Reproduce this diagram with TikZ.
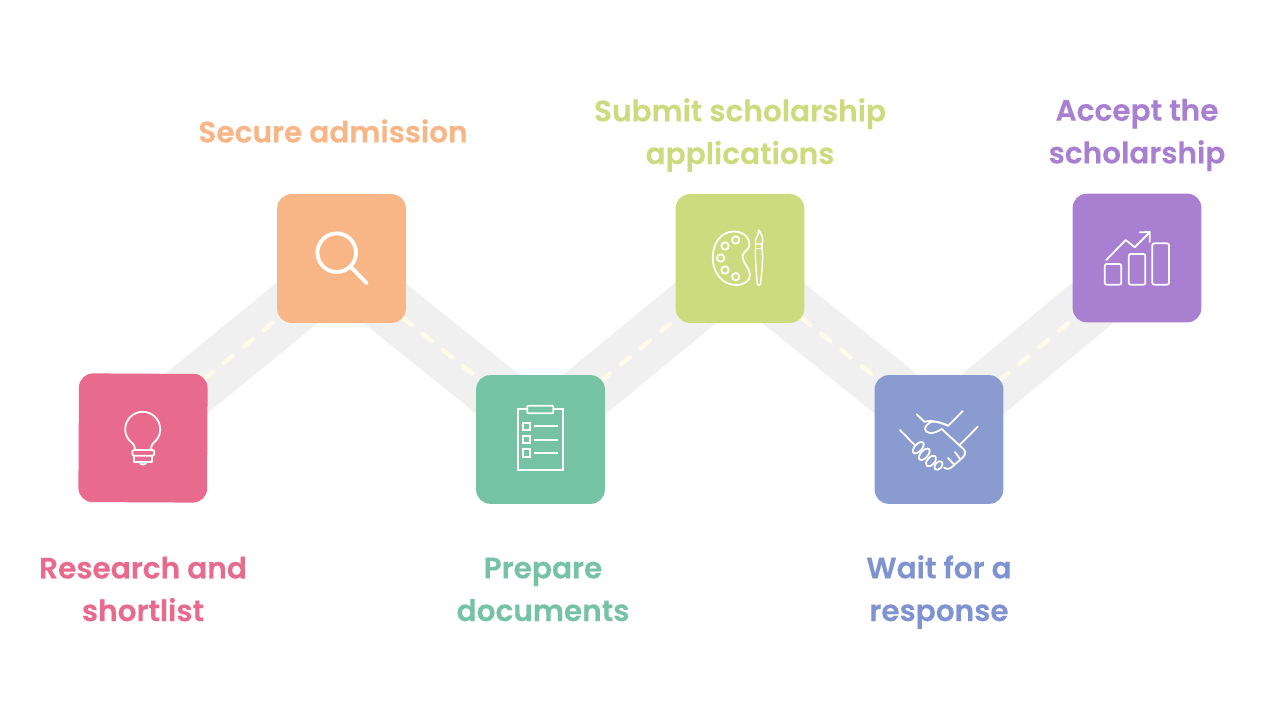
\documentclass[tikz,border=0pt]{standalone}
\usepackage{fontspec}
\usetikzlibrary{calc}
\newfontfamily\lblfont[FakeBold=0.2]{Poppins SemiBold}
\definecolor{cpink}{HTML}{E86A8C}
\definecolor{corange}{HTML}{F8B586}
\definecolor{cgreen}{HTML}{75C2A4}
\definecolor{clime}{HTML}{CBDB7D}
\definecolor{cblue}{HTML}{8A9CCF}
\definecolor{cbluet}{HTML}{7E93CF}
\definecolor{cpurple}{HTML}{A97FD1}
\definecolor{cband}{HTML}{F0F0F0}
\definecolor{cdash}{HTML}{FFFBEA}
\tikzset{
  square/.style={rectangle,rounded corners=10.5pt,minimum size=96.5pt,inner sep=0pt,fill=#1},
  lbl/.style={font=\lblfont\fontsize{22.2}{32}\selectfont,align=center,text=#1,inner sep=0pt},
  band/.style={draw=cband,line width=43pt},
  road/.style={draw=cdash,line width=3.3pt,dash pattern=on 9pt off 10.5pt,line cap=round},
  ico/.style={draw=white,line width=1.35pt,line join=round,line cap=round},
}
\begin{document}
\begin{tikzpicture}[x=0.75pt,y=-0.75pt]
\useasboundingbox (0,0) rectangle (1280,720);
\coordinate (c1) at (143,438);
\coordinate (c2) at (341.5,258.5);
\coordinate (c3) at (540.5,439.5);
\coordinate (c4) at (740,258.5);
\coordinate (c5) at (939,439.5);
\coordinate (c6) at (1137,258);
\foreach \a/\b/\da/\db in {c1/c2/-9/8,c2/c3/10/-11,c3/c4/-9/8,c4/c5/10/-11,c5/c6/-9/8}{
  \draw[band] ($(\a)+(0,\da)$) -- ($(\b)+(0,\db)$);
  \draw[road] ($(\a)+(0,\da)$) -- ($(\b)+(0,\db)$);
}
\node[square=cpink,rotate=-0.3] (s1) at (c1) {};
\node[square=corange] (s2) at (c2) {};
\node[square=cgreen] (s3) at (c3) {};
\node[square=clime] (s4) at (c4) {};
\node[square=cblue] (s5) at (c5) {};
\node[square=cpurple] (s6) at (c6) {};
\node[lbl=cpink] (t1) at (143,589) {Research and\\shortlist};
\node[lbl=corange] (t2) at (333,131) {Secure admission};
\node[lbl=cgreen] (t3) at (543,589.5) {Prepare\\documents};
\node[lbl=clime] (t4) at (740,135) {Submit scholarship\\applications};
\node[lbl=cbluet] (t5) at (939,592) {Wait for a\\response};
\node[lbl=cpurple] (t6) at (1137,135) {Accept the\\scholarship};
% bulb
\draw[ico] (135,450) .. controls (135,444) and (132,443) .. (129.5,440.5)
  .. controls (126.5,437) and (125.2,433.5) .. (125.2,429.3)
  arc[start angle=180,end angle=0,x radius=17.5,y radius=-17.5]
  .. controls (160.2,433.5) and (159,437) .. (156,440.5)
  .. controls (153.5,443) and (151,444) .. (151,450);
\draw[ico,rounded corners=1.5pt] (132.3,450) rectangle (154.3,455.7);
\draw[ico] (134.3,455.7) -- (134.3,461.7) -- (152.3,461.7) -- (152.3,455.7);
\draw[ico] (139.3,461.7) .. controls (140,465.5) and (146,465.5) .. (146.7,461.7);
% magnifier
\draw[draw=white,line width=2.9pt] (336.7,252.7) circle[radius=19.3];
\draw[draw=white,line width=2.9pt,line cap=round] (351,267) -- (366.7,283.3);
% clipboard
\draw[ico,line join=miter] (517.7,409.3) rectangle (563.3,470);
\draw[ico,fill=cgreen,rounded corners=0.6pt] (527.3,405.7) rectangle (553.3,413.3);
\foreach \y in {422.7,436,449.3}{
  \draw[ico,line join=miter] (522.7,\y) rectangle ++(7.3,7.3);
  \draw[ico,line cap=butt] (534,\y+3.65) -- (558,\y+3.65);
}
% palette
\draw[ico] (734,231.5) .. controls (744,231.5) and (749.5,238) .. (749.5,244.5)
  .. controls (749.5,250) and (742.5,251.5) .. (742.5,256.5)
  .. controls (742.5,263) and (750,268) .. (750,275)
  .. controls (750,281) and (744,285) .. (736,285)
  .. controls (722,285) and (712.7,272) .. (712.7,258)
  .. controls (712.7,243) and (721,231.5) .. (734,231.5) -- cycle;
\foreach \x/\y in {735.7/240,725/246,720.7/258,725/270,735.7/276.7}{
  \draw[ico] (\x,\y) circle[radius=3.7];
}
% brush
\draw[ico,line width=1.1pt] (758.5,230) .. controls (762,234) and (764,239) .. (762,244)
  -- (755.5,244) .. controls (754,238) and (759.5,236) .. (758.5,230) -- cycle;
\draw[ico,line width=1.1pt] (755.5,244) -- (755.5,248.5) -- (762,248.5) -- (762,244);
\draw[ico,line width=1.1pt] (755.5,248.5) .. controls (755,258) and (756.5,275) .. (757.3,284)
  arc[start angle=180,end angle=360,x radius=1.6,y radius=-1.6]
  .. controls (761.5,275) and (763.5,258) .. (762,248.5);
% handshake
\draw[ico] (900,430) -- (915.5,446);
\draw[ico] (977.7,426.7) -- (959,445.7);
\draw[ico] (916.7,414.3) -- (924.3,421.7) .. controls (930,420) and (938,421.5) .. (948.3,425.7) -- (962.7,411);
\draw[ico] (948.3,425.7) .. controls (942,423) and (936,421) .. (932,421.7)
  .. controls (928,423) and (925,426.5) .. (925,429) .. controls (925.5,433) and (932,435.5) .. (941.7,429)
  -- (964,449.5) .. controls (966.5,453) and (965,456) .. (960,460) -- (953,466) .. controls (950,469) and (947,470) .. (944,467.5);
\draw[ico] (948,458) -- (954.5,465);
\draw[ico] (955,452) -- (960.5,459.5);
\foreach \x/\y/\l/\h in {938.5/465.5/5/3.3,931/461/6.5/3.6,924.3/454.3/7/3.6,918.3/447.7/7/3.6}{
  \draw[ico,fill=cblue,rotate around={48:(\x,\y)}] (\x,\y) ellipse[x radius=\l,y radius=\h];
}
% chart
\draw[ico,rounded corners=1.5pt] (1104.7,264) rectangle (1121.3,284.7);
\draw[ico,rounded corners=1.5pt] (1128.7,254) rectangle (1145.3,284.7);
\draw[ico,rounded corners=1.5pt] (1152.3,243.3) rectangle (1169,284.7);
\draw[ico] (1106.3,260) -- (1125.7,240) -- (1134.7,247.3) -- (1149.7,232.3);
\draw[ico] (1139.7,232.3) -- (1149.7,232) -- (1149.7,241.7);
\end{tikzpicture}
\end{document}
